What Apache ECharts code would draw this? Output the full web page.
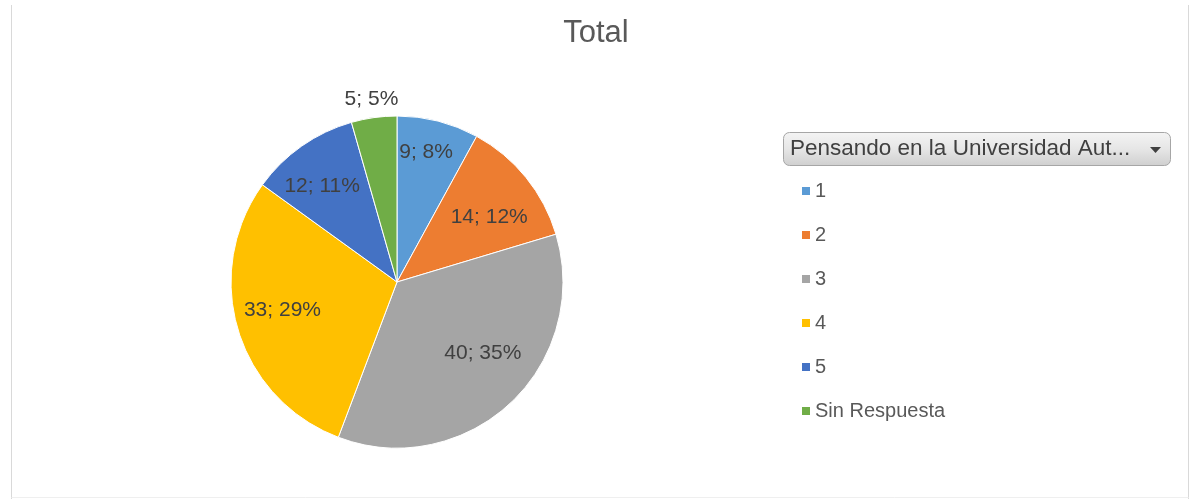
<!DOCTYPE html>
<html>
<head>
<meta charset="utf-8">
<script src="https://cdn.jsdelivr.net/npm/echarts@6/dist/echarts.min.js"></script>
<style>
html,body{margin:0;padding:0;background:#fff;}
#chart{width:1192px;height:499px;}
</style>
</head>
<body>
<div id="chart"></div>
<script>
const titleText = 'Total';
const legendTitle = 'Pensando en la Universidad Aut...';
const categories = ['1', '2', '3', '4', '5', 'Sin Respuesta'];
const values = [9, 14, 40, 33, 12, 5];
const colors = ['#5B9BD5', '#ED7D31', '#A5A5A5', '#FFC000', '#4472C4', '#70AD47'];

const FONT = '"Liberation Sans", Arial, sans-serif';
const CX = 397, CY = 282, R = 166;
// label placement ("best fit"-like): radial fraction and angular nudge (degrees)
const labelRadiusFrac = [0.80, 0.68, 0.67, 0.71, 0.73, 1.11];
const labelAngleNudge = [-1.7, 3.8, -7.5, 3.1, -3.1, 0];

const total = values.reduce((a, b) => a + b, 0);
function midAngle(i) {
  let before = 0;
  for (let k = 0; k < i; k++) before += values[k];
  return (before + values[i] / 2) / total * 2 * Math.PI;
}

const chart = echarts.init(document.getElementById('chart'), null, {renderer: 'canvas'});
chart.setOption({
  backgroundColor: '#ffffff',
  animation: false,
  title: {
    text: titleText,
    left: 'center',
    top: 13,
    textStyle: {fontFamily: FONT, fontSize: 31, fontWeight: 'normal', color: '#595959'}
  },
  legend: {
    orient: 'vertical',
    left: 795,
    top: 176,
    itemWidth: 10,
    itemHeight: 10,
    itemGap: 24,
    icon: 'rect',
    selectedMode: false,
    data: categories,
    textStyle: {fontFamily: FONT, fontSize: 20, color: '#595959', lineHeight: 20, padding: [0, 0, 0, -1]}
  },
  graphic: [
    {type: 'line', shape: {x1: 11.5, y1: 5, x2: 11.5, y2: 499}, style: {stroke: '#d9d9d9', lineWidth: 1}, silent: true},
    {type: 'line', shape: {x1: 1188.5, y1: 5, x2: 1188.5, y2: 499}, style: {stroke: '#d9d9d9', lineWidth: 1}, silent: true},
    {type: 'line', shape: {x1: 11.5, y1: 497.5, x2: 1188.5, y2: 497.5}, style: {stroke: '#efefef', lineWidth: 1}, silent: true},
    {
      type: 'rect',
      shape: {x: 783.5, y: 132.5, width: 387, height: 33, r: 6},
      style: {
        fill: new echarts.graphic.LinearGradient(0, 0, 0, 1, [
          {offset: 0, color: '#f4f4f4'},
          {offset: 0.5, color: '#e6e6e6'},
          {offset: 1, color: '#cfcfcf'}
        ]),
        stroke: '#a6a6a6',
        lineWidth: 1
      },
      silent: true
    },
    {
      type: 'text',
      x: 790, y: 149,
      style: {text: legendTitle, fontFamily: FONT, fontSize: 22.5, fill: '#404040', verticalAlign: 'middle', align: 'left'},
      silent: true
    },
    {
      type: 'polygon',
      shape: {points: [[1150, 147], [1161, 147], [1155.5, 153]]},
      style: {fill: '#404040'},
      silent: true
    }
  ],
  series: [{
    type: 'pie',
    center: [CX, CY],
    radius: R,
    startAngle: 90,
    clockwise: true,
    percentPrecision: 0,
    label: {
      show: true,
      position: 'inside',
      formatter: '{c}; {d}%',
      fontFamily: FONT,
      fontSize: 21,
      color: '#404040'
    },
    labelLine: {show: false},
    labelLayout: function (p) {
      const i = p.dataIndex;
      const a = midAngle(i) + labelAngleNudge[i] * Math.PI / 180;
      const f = labelRadiusFrac[i];
      return {
        x: CX + f * R * Math.sin(a),
        y: CY - f * R * Math.cos(a),
        align: 'center',
        verticalAlign: 'middle'
      };
    },
    itemStyle: {borderColor: '#ffffff', borderWidth: 1},
    emphasis: {disabled: true},
    data: categories.map((c, i) => ({name: c, value: values[i], itemStyle: {color: colors[i]}}))
  }]
});
</script>
</body>
</html>
